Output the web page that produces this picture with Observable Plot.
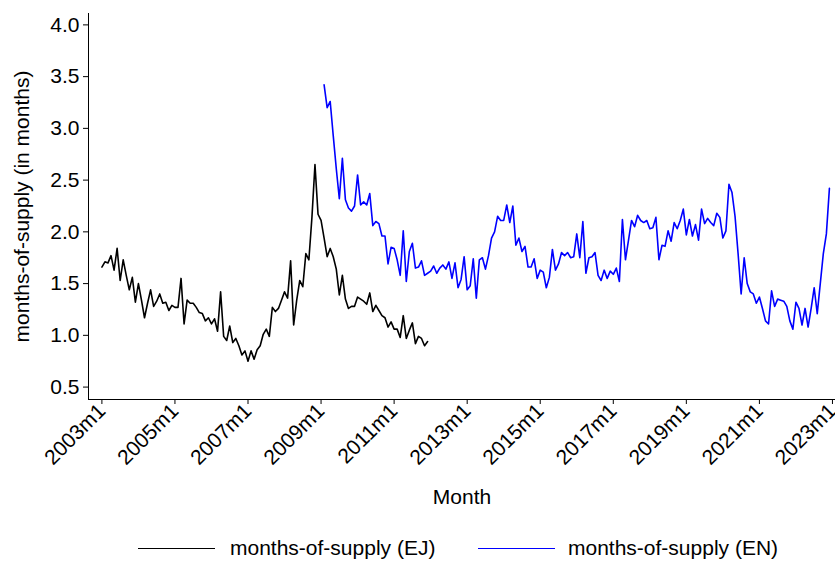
<!DOCTYPE html>
<html>
<head>
<meta charset="utf-8">
<script src="https://cdn.jsdelivr.net/npm/d3@7"></script>
<script src="https://cdn.jsdelivr.net/npm/@observablehq/plot@0.6"></script>
<style>
  html, body { margin: 0; padding: 0; background: #fff; }
  body { width: 835px; height: 561px; overflow: hidden; font-family: "Liberation Sans", Arial, sans-serif; }
  #legend { position: relative; width: 835px; height: 39px; font-size: 21px; color: #000; }
  .sw { position: absolute; top: 26px; width: 77px; height: 0; border-top: 1.5px solid; }
  .lt { position: absolute; top: 14px; line-height: 24px; white-space: nowrap; }
</style>
</head>
<body>
<div id="chart"></div>
<div id="legend"></div>
<script>
// Month index: 0 = 2003m1
const ejStart = 0;
const ejValues = [
  1.66,1.71,1.70,1.77,1.63,1.84,1.53,1.73,1.58,1.44,1.56,1.32,
  1.50,1.34,1.17,1.31,1.44,1.28,1.33,1.40,1.31,1.32,1.24,1.29,
  1.27,1.27,1.55,1.11,1.34,1.31,1.31,1.27,1.22,1.21,1.14,1.17,
  1.11,1.16,1.04,1.42,0.99,0.95,1.09,0.93,0.97,0.90,0.81,0.85,
  0.75,0.85,0.77,0.86,0.90,1.01,1.06,0.99,1.27,1.23,1.26,1.34,
  1.42,1.36,1.72,1.10,1.34,1.53,1.47,1.79,1.73,2.14,2.65,2.17,
  2.11,1.94,1.76,1.84,1.76,1.64,1.39,1.58,1.35,1.26,1.28,1.28,
  1.37,1.35,1.33,1.30,1.41,1.23,1.29,1.24,1.19,1.17,1.08,1.13,
  1.06,1.06,0.98,1.19,0.97,1.05,1.12,0.92,0.99,0.97,0.90,0.94
];
const enStart = 73; // 2009m2
const enValues = [
  3.42,3.20,3.26,2.93,2.61,2.32,2.71,2.31,2.23,2.20,2.25,
  2.55,2.26,2.29,2.26,2.37,2.06,2.10,2.08,1.96,1.96,1.69,1.85,
  1.84,1.73,1.58,2.01,1.52,1.81,1.89,1.65,1.66,1.72,1.58,1.60,
  1.62,1.67,1.60,1.65,1.68,1.64,1.71,1.55,1.70,1.46,1.54,1.76,
  1.44,1.48,1.74,1.36,1.73,1.75,1.64,1.77,1.94,2.00,2.15,2.11,
  2.11,2.26,2.09,2.25,1.87,1.94,1.81,1.86,1.66,1.66,1.74,1.55,
  1.63,1.61,1.46,1.56,1.83,1.63,1.69,1.80,1.77,1.80,1.75,1.76,
  1.98,1.75,2.10,1.60,1.75,1.76,1.80,1.58,1.53,1.63,1.55,1.62,
  1.59,1.65,1.52,2.12,1.73,1.92,2.11,2.05,2.16,2.11,2.09,2.11,
  2.03,2.04,2.14,1.73,1.87,1.86,2.01,1.91,2.09,2.03,2.11,
  2.22,1.97,2.12,1.96,2.07,1.92,2.22,2.08,2.13,2.09,2.06,2.18,
  2.14,1.94,2.01,2.46,2.38,2.15,1.79,1.40,1.75,1.50,1.42,1.40,
  1.31,1.37,1.26,1.14,1.11,1.43,1.28,1.35,1.34,1.33,1.28,1.14,
  1.06,1.32,1.26,1.10,1.26,1.08,1.26,1.46,1.21,1.50,1.79,1.98,2.42
];
const xTicks = [0,24,48,72,96,120,144,168,192,216,240];
const xTickLabels = ["2003m1","2005m1","2007m1","2009m1","2011m1","2013m1","2015m1","2017m1","2019m1","2021m1","2023m1"];
const yTicks = [0.5,1.0,1.5,2.0,2.5,3.0,3.5,4.0];
const seriesNames = ["months-of-supply (EJ)", "months-of-supply (EN)"];
const seriesColors = ["#000000", "#0000ff"];
const xTitle = "Month";
const yTitle = "months-of-supply (in months)";

const xDomain = [-4.4, 241];
const yDomain = [0.38, 4.11];

const ej = ejValues.map((v, i) => ({m: ejStart + i, v}));
const en = enValues.map((v, i) => ({m: enStart + i, v}));

const chart = Plot.plot({
  width: 835,
  height: 522,
  marginLeft: 88,
  marginRight: 0,
  marginTop: 13,
  marginBottom: 123,
  x: {domain: xDomain},
  y: {domain: yDomain},
  style: {fontFamily: "'Liberation Sans', Arial, sans-serif", fontSize: "21px", color: "#000", background: "#fff", overflow: "visible"},
  marks: [
    Plot.ruleY([yDomain[0]], {stroke: "#000", strokeWidth: 1}),
    Plot.ruleX([xDomain[0]], {stroke: "#000", strokeWidth: 1}),
    Plot.axisX({ticks: xTicks, tickFormat: d => xTickLabels[xTicks.indexOf(d)], tickRotate: -45, tickSize: 5, tickPadding: 3, label: null, stroke: "#000", fontSize: 21}),
    Plot.axisY({ticks: yTicks, tickFormat: d3.format(".1f"), tickSize: 5, tickPadding: 4, label: null, stroke: "#000", fontSize: 21}),
    Plot.line(ej, {x: "m", y: "v", stroke: seriesColors[0], strokeWidth: 1.6}),
    Plot.line(en, {x: "m", y: "v", stroke: seriesColors[1], strokeWidth: 1.6}),
    Plot.text([xTitle], {frameAnchor: "bottom", dy: 98, textAnchor: "middle", lineAnchor: "middle", fontSize: 21, fill: "#000"}),
    Plot.text([yTitle], {frameAnchor: "left", dx: -66, rotate: -90, textAnchor: "middle", lineAnchor: "middle", fontSize: 21, fill: "#000"})
  ]
});
document.getElementById("chart").appendChild(chart);

const legend = document.getElementById("legend");
const swX = [138, 478];
const txX = [230, 568];
seriesNames.forEach((name, i) => {
  const sw = document.createElement("div");
  sw.className = "sw";
  sw.style.left = swX[i] + "px";
  sw.style.borderTopColor = seriesColors[i];
  legend.appendChild(sw);
  const t = document.createElement("div");
  t.className = "lt";
  t.style.left = txX[i] + "px";
  t.textContent = name;
  legend.appendChild(t);
});
</script>
</body>
</html>
